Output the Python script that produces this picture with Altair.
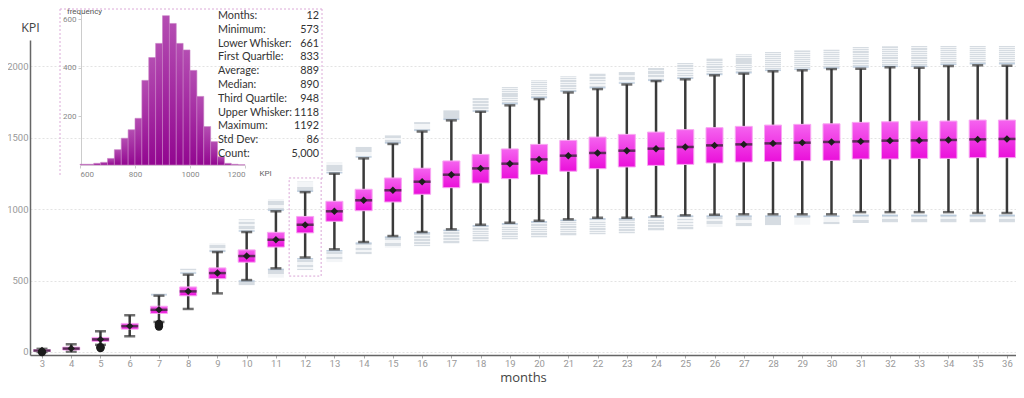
import altair as alt
import pandas as pd

# ---------------- data ----------------
months = list(range(3, 37))
lower_whisker = [0, 3, 50, 110, 210, 301, 410, 503, 585, 661, 718, 769, 811, 839, 858, 890, 904,
                 918, 928, 939, 939, 949, 956, 960, 963, 963, 963, 963, 978, 978, 978, 978, 972, 972]
q1 = [4, 14, 74, 160, 270, 393, 513, 628, 734, 833, 914, 988, 1049, 1103, 1149, 1182, 1212,
      1242, 1264, 1282, 1294, 1305, 1312, 1322, 1329, 1333, 1338, 1340, 1350, 1350, 1354, 1354, 1359, 1359]
median = [10, 24, 88, 181, 295, 424, 552, 671, 785, 890, 984, 1061, 1131, 1191, 1240, 1284, 1317,
          1347, 1373, 1392, 1408, 1422, 1434, 1445, 1452, 1459, 1464, 1469, 1473, 1478, 1480, 1483, 1487, 1490]
mean = [10, 24, 88, 181, 295, 424, 552, 671, 785, 889, 984, 1061, 1131, 1191, 1240, 1284, 1317,
        1347, 1373, 1392, 1408, 1422, 1434, 1445, 1452, 1459, 1464, 1469, 1473, 1478, 1480, 1483, 1487, 1490]
q3 = [16, 34, 102, 200, 320, 455, 588, 714, 837, 948, 1054, 1138, 1217, 1285, 1336, 1382, 1420,
      1452, 1480, 1503, 1522, 1538, 1555, 1569, 1578, 1587, 1592, 1596, 1606, 1610, 1615, 1615, 1622, 1622]
upper_whisker = [22, 54, 145, 257, 394, 541, 699, 839, 984, 1118, 1247, 1354, 1455, 1542, 1620, 1680, 1725,
                 1769, 1815, 1839, 1871, 1895, 1907, 1935, 1947, 1963, 1970, 1979, 1981, 1991, 1988, 2000, 2005, 2002]
# grey outlier stacks (range of outliers above / below the whiskers)
upper_out_lo = [None, None, None, None, 400, 552, 704, 846, 991, 1124, 1254, 1364, 1462, 1550, 1627, 1685, 1736,
                1779, 1823, 1848, 1881, 1900, 1914, 1941, 1953, 1970, 1977, 1986, 1993, 1998, 1998, 2012, 2016, 2016]
upper_out_hi = [None, None, None, None, 408, 582, 757, 928, 1065, 1192, 1324, 1434, 1515, 1608, 1690, 1776, 1853,
                1900, 1928, 1946, 1958, 1986, 2021, 2052, 2082, 2098, 2109, 2114, 2133, 2138, 2140, 2140, 2140, 2140]
lower_out_lo = [None, None, None, None, None, None, None, 466, 520, 573, 629, 683, 729, 739, 757, 769, 785,
                797, 811, 820, 827, 846, 855, 874, 879, 886, 890, 893, 902, 904, 904, 904, 904, 904]
lower_out_hi = [None, None, None, None, None, None, None, 497, 578, 652, 708, 762, 804, 834, 851, 883, 897,
                911, 921, 932, 932, 944, 951, 951, 951, 951, 951, 951, 956, 956, 956, 956, 956, 956]
# black outlier dots (early months)
dot_month = [3, 5, 5, 7, 7, 7]
dot_value = [0, 28, 33, 178, 188, 196]

# highlighted month (inset)
hl_month = [12]
hl_min = [573]
hl_max = [1192]

# inset histogram of month 12
hist_bin_start = [600, 625, 650, 675, 700, 725, 750, 775, 800, 825, 850, 875,
                  900, 925, 950, 975, 1000, 1025, 1050, 1075, 1100, 1125, 1150, 1175]
hist_bin_end = [625, 650, 675, 700, 725, 750, 775, 800, 825, 850, 875, 900,
                925, 950, 975, 1000, 1025, 1050, 1075, 1100, 1125, 1150, 1175, 1200]
hist_freq = [3, 3, 7, 11, 27, 63, 110, 145, 192, 348, 442, 500,
             614, 582, 500, 473, 389, 282, 158, 96, 34, 7, 3, 1]

stat_labels = ["Months:", "Minimum:", "Lower Whisker:", "First Quartile:", "Average:", "Median:",
               "Third Quartile:", "Upper Whisker:", "Maximum:", "Std Dev:", "Count:"]
stat_values = ["12", "573", "661", "833", "889", "890", "948", "1118", "1192", "86", "5,000"]

# ---------------- tables ----------------
box_df = pd.DataFrame({"month": months, "lw": lower_whisker, "q1": q1, "median": median,
                       "mean": mean, "q3": q3, "uw": upper_whisker})
up_df = pd.DataFrame({"month": months, "lo": upper_out_lo, "hi": upper_out_hi}).dropna()
lo_df = pd.DataFrame({"month": months, "lo": lower_out_lo, "hi": lower_out_hi}).dropna()
dot_df = pd.DataFrame({"month": dot_month, "value": dot_value})
hl_df = pd.DataFrame({"month": hl_month, "lo": [v - 42 for v in hl_min], "hi": [v + 25 for v in hl_max]})
hist_df = pd.DataFrame({"start": hist_bin_start, "end": hist_bin_end, "freq": hist_freq,
                        "base": [0] * len(hist_freq)})
stat_df = pd.DataFrame({"row": list(range(len(stat_labels))), "label": stat_labels, "value": stat_values})
one_df = pd.DataFrame({"k": [0]})

# ---------------- styles ----------------
PLOT_W, PLOT_H = 986, 315
FONT_AX = "Roboto"
FONT_T = "Open Sans"

box_grad = alt.Gradient(gradient="linear", x1=0, y1=0, x2=0, y2=1,
                        stops=[alt.GradientStop(color="#f563ef", offset=0),
                               alt.GradientStop(color="#ea10da", offset=1)])
hist_grad = alt.Gradient(gradient="linear", x1=0, y1=0, x2=0, y2=1,
                         stops=[alt.GradientStop(color="#b44db2", offset=0),
                                alt.GradientStop(color="#920690", offset=1)])
stripe_stops = []
n_stripes = 9
for i in range(n_stripes):
    a = i / n_stripes
    b = (i + 0.55) / n_stripes
    c = (i + 1) / n_stripes
    stripe_stops += [alt.GradientStop(color="#d6dce2", offset=a),
                     alt.GradientStop(color="#d6dce2", offset=b),
                     alt.GradientStop(color="#f3f5f7", offset=b),
                     alt.GradientStop(color="#f3f5f7", offset=c)]
stripe_grad = alt.Gradient(gradient="linear", x1=0, y1=0, x2=0, y2=1, stops=stripe_stops)

x_scale = alt.Scale(domain=[2.59, 36.31], nice=False, zero=False, padding=0)
x_axis = alt.Axis(values=months, title="months", grid=False, labelColor="#999",
                  labelFont=FONT_AX, labelFontSize=9.5, tickColor="#aaa", tickSize=3,
                  labelPadding=0, labelOverlap=False, labelBound=False, labelFlush=False,
                  domainColor="#666", domainWidth=1.5,
                  titleFont=FONT_T, titleFontSize=13, titleFontWeight="normal",
                  titleColor="#444", titleY=29, titleBaseline="bottom")
y_scale = alt.Scale(domain=[-21, 2182], nice=False, zero=False, padding=0)
y_axis = alt.Axis(values=[0, 500, 1000, 1500, 2000], format="d", title="KPI", grid=True,
                  gridColor="#e3e3e3", gridDash=[2, 2], labelColor="#999", labelFont=FONT_AX,
                  labelFontSize=9.5, ticks=False, labelPadding=2, domainColor="#666",
                  domainWidth=1.5, titleAngle=0, titleX=0, titleY=-13, titleAlign="center",
                  titleBaseline="middle", titleFont=FONT_T, titleFontSize=12.5,
                  titleFontWeight="normal", titleColor="#444")


def X():
    return alt.X("month:Q", scale=x_scale, axis=x_axis)


def Y(field):
    return alt.Y(field, scale=y_scale, axis=y_axis)


base = alt.Chart(box_df)

highlight = alt.Chart(hl_df).mark_bar(size=32, fillOpacity=0, stroke="#d9a3d5",
                                      strokeWidth=1, strokeDash=[2, 2]).encode(
    x=X(), y=Y("lo:Q"), y2="hi:Q")

up_band = alt.Chart(up_df).mark_bar(size=16, color=stripe_grad).encode(
    x=X(), y=Y("lo:Q"), y2="hi:Q")
lo_band = alt.Chart(lo_df).mark_bar(size=16, color=stripe_grad).encode(
    x=X(), y=Y("lo:Q"), y2="hi:Q")
up_edge = alt.Chart(up_df).mark_tick(orient="horizontal", size=16, thickness=1.5,
                                     color="#a9bfd5").encode(x=X(), y=Y("lo:Q"))
lo_edge = alt.Chart(lo_df).mark_tick(orient="horizontal", size=16, thickness=1.5,
                                     color="#a9bfd5").encode(x=X(), y=Y("hi:Q"))

whisker = base.mark_rule(color="#3a3a3a", strokeWidth=2.5).encode(x=X(), y=Y("lw:Q"), y2="uw:Q")
cap_hi = base.mark_tick(orient="horizontal", size=11, thickness=2.5, color="#333").encode(
    x=X(), y=Y("uw:Q"))
cap_lo = base.mark_tick(orient="horizontal", size=11, thickness=2.5, color="#333").encode(
    x=X(), y=Y("lw:Q"))
box = base.mark_bar(size=17, color=box_grad, stroke="#f8a6f2", strokeWidth=1).encode(
    x=X(), y=Y("q1:Q"), y2="q3:Q")
med = base.mark_tick(orient="horizontal", size=17, thickness=2.5, color="#222").encode(
    x=X(), y=Y("median:Q"))
mn = base.mark_point(shape="diamond", filled=True, size=55, color="#1e1e1e", opacity=1).encode(
    x=X(), y=Y("mean:Q"))
dots = alt.Chart(dot_df).mark_circle(size=70, color="#1a1a1a", opacity=1).encode(
    x=X(), y=Y("value:Q"))

main = alt.layer(highlight, up_band, lo_band, up_edge, lo_edge, whisker, cap_hi, cap_lo,
                 box, med, mn, dots)

# ---------------- inset histogram ----------------
hist = alt.Chart(hist_df).mark_bar(color=hist_grad, stroke="#c77fc5", strokeWidth=0.6).encode(
    x=alt.X("start:Q",
            scale=alt.Scale(domain=[600, 1200], range=[50, 215], nice=False, zero=False, padding=0),
            axis=alt.Axis(orient="bottom", offset=-190, values=[600, 800, 1000, 1200], format="d",
                          title="KPI", grid=False, labelColor="#888", labelFont=FONT_AX,
                          labelFontSize=8, tickColor="#ccc", tickSize=3, labelPadding=2,
                          labelOverlap=False,
                          domainColor="#ddd", titleFont=FONT_AX, titleFontSize=8,
                          titleFontWeight="normal", titleColor="#666", titleX=235, titleY=8,
                          titleAlign="center", titleBaseline="middle")),
    x2="end:Q",
    y=alt.Y("freq:Q", stack=None,
            scale=alt.Scale(domain=[0, 625], range=[125, -27], nice=False, zero=True, padding=0),
            axis=alt.Axis(orient="left", offset=-51, values=[200, 400, 600], title="frequency",
                          grid=False, labelColor="#888", labelFont=FONT_AX, labelFontSize=8,
                          tickColor="#ccc", tickSize=3, labelPadding=2, domainColor="#ccc",
                          titleAngle=0, titleX=3, titleY=-29, titleAlign="center",
                          titleBaseline="middle", titleFont=FONT_AX, titleFontSize=8,
                          titleFontWeight="normal", titleColor="#555")),
    y2="base:Q",
)

# ---------------- stats table ----------------
row_y = alt.Y("row:Q", scale=alt.Scale(domain=[0, 10], range=[-24, 114], nice=False, zero=False),
              axis=None)
t_lab = alt.Chart(stat_df).mark_text(align="left", baseline="middle", font="Lato",
                                     fontSize=10.8, color="#333").encode(
    x=alt.value(188), y=row_y, text="label:N")
t_val = alt.Chart(stat_df).mark_text(align="right", baseline="middle", font="Lato",
                                     fontSize=10.8, color="#333").encode(
    x=alt.value(289), y=row_y, text="value:N")
table = alt.layer(t_lab, t_val)

# inset dashed frame (left, top, right)
frame_style = dict(color="#dcaad8", strokeWidth=1, strokeDash=[2, 2])
fr_left = alt.Chart(one_df).mark_rule(**frame_style).encode(
    x=alt.value(30), y=alt.value(-31), y2=alt.value(136))
fr_top = alt.Chart(one_df).mark_rule(**frame_style).encode(
    x=alt.value(30), x2=alt.value(292), y=alt.value(-31))
fr_right = alt.Chart(one_df).mark_rule(**frame_style).encode(
    x=alt.value(292), y=alt.value(-31), y2=alt.value(140))
frame = alt.layer(fr_left, fr_top, fr_right)

chart = alt.layer(main, hist, table, frame).resolve_scale(
    x="independent", y="independent"
).properties(
    width=PLOT_W, height=PLOT_H, autosize="none", background="white",
    padding={"left": 22, "top": 32, "right": 0, "bottom": 30},
).configure_view(stroke=None).configure_axisX(labelOverlap=False)

chart.save("out.html", embed_options={"renderer": "svg", "actions": False})
